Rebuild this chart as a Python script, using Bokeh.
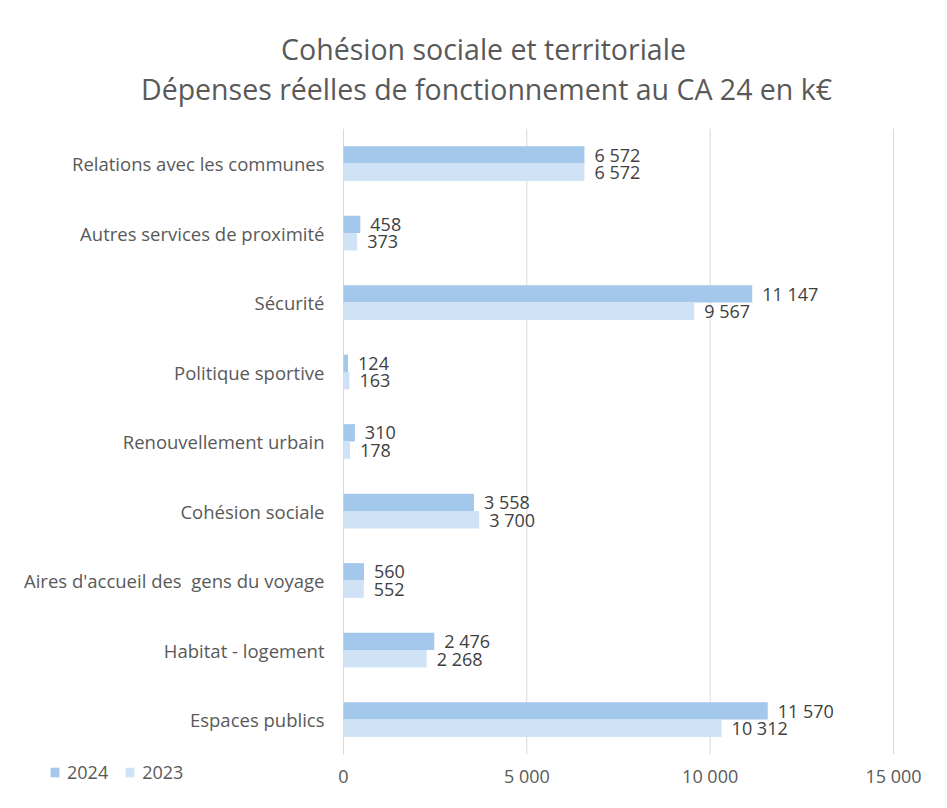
from bokeh.plotting import figure
from bokeh.models import ColumnDataSource, Legend, LegendItem, Label, Range1d
from bokeh.core.properties import value
from bokeh.embed import file_html
from bokeh.resources import INLINE

categories = ["Relations avec les communes", "Autres services de proximité", "Sécurité",
              "Politique sportive", "Renouvellement urbain", "Cohésion sociale",
              "Aires d'accueil des\u00a0 gens du voyage", "Habitat - logement", "Espaces publics"]
values_2024 = [6572, 458, 11147, 124, 310, 3558, 560, 2476, 11570]
values_2023 = [6572, 373, 9567, 163, 178, 3700, 552, 2268, 10312]
x_ticks = [0, 5000, 10000, 15000]
title_lines = ["Cohésion sociale et territoriale",
               "Dépenses réelles de fonctionnement au CA 24 en k€"]
series_names = ["2024", "2023"]


def fmt(v):
    return f"{v:,}".replace(",", " ")


n = len(categories)
pos = [n - 1 - i for i in range(n)]          # first category at the top
BAR = 0.25

src = ColumnDataSource(dict(
    cat=categories,
    pos=pos,
    y24=[y + BAR / 2 for y in pos],
    y23=[y - BAR / 2 for y in pos],
    v24=values_2024,
    v23=values_2023,
    l24=[fmt(v) for v in values_2024],
    l23=[fmt(v) for v in values_2023],
))
tick_src = ColumnDataSource(dict(
    x=x_ticks,
    y0=[-0.5] * len(x_ticks),
    y1=[n - 0.5] * len(x_ticks),
    lab=[fmt(t) for t in x_ticks],
))

FONT = "Open Sans"
C24 = "#A4C8EC"
C23 = "#D0E3F6"
TXT = "#404040"
GREY = "#595959"

# ---- layout geometry (pixels) ----
W, H = 935, 800
X0_PX, X1_PX = 343, 893          # pixel of x = 0 and x = max tick
TOP_PX, STEP_PX = 163, 69.5      # centre of first category, category spacing
xmax = x_ticks[-1]
ppx = (X1_PX - X0_PX) / xmax
x_start = -X0_PX / ppx
x_end = (W - X0_PX) / ppx
y_top = (n - 1) + TOP_PX / STEP_PX
y_bot = y_top - H / STEP_PX

p = figure(width=W, height=H, output_backend="svg", toolbar_location=None,
           x_range=Range1d(x_start, x_end), y_range=Range1d(y_bot, y_top),
           x_axis_location=None, y_axis_location=None,
           min_border=0)
p.grid.visible = False
p.outline_line_color = None
p.background_fill_color = "white"
p.border_fill_color = "white"

# vertical gridlines
p.segment(x0="x", x1="x", y0="y0", y1="y1", source=tick_src,
          line_color="#D9D9D9", line_width=1)

# bars
r24 = p.hbar(y="y24", right="v24", left=0, height=BAR, source=src,
             fill_color=C24, line_color=None)
r23 = p.hbar(y="y23", right="v23", left=0, height=BAR, source=src,
             fill_color=C23, line_color=None)

# value labels
p.text(x="v24", y="y24", text="l24", source=src, x_offset=10,
       text_align="left", text_baseline="middle",
       text_font=value(FONT), text_font_size="18px", text_color=TXT)
p.text(x="v23", y="y23", text="l23", source=src, x_offset=10,
       text_align="left", text_baseline="middle",
       text_font=value(FONT), text_font_size="18px", text_color=TXT)

# category labels
p.text(x=0, y="pos", text="cat", source=src, x_offset=-19,
       text_align="right", text_baseline="middle",
       text_font=value(FONT), text_font_size="18.5px", text_color=GREY)

# x tick labels
p.text(x="x", y="y0", text="lab", source=tick_src, y_offset=22,
       text_align="center", text_baseline="middle",
       text_font=value(FONT), text_font_size="18px", text_color=GREY)

# title (two lines)
p.add_layout(Label(x=483, y=H - 48, x_units="screen", y_units="screen",
                   text=title_lines[0], text_align="center", text_baseline="middle",
                   text_font=FONT, text_font_size="28.5px", text_color=GREY))
p.add_layout(Label(x=486, y=H - 88, x_units="screen", y_units="screen",
                   text=title_lines[1], text_align="center", text_baseline="middle",
                   text_font=FONT, text_font_size="28.5px", text_color=GREY))

# legend
legend = Legend(items=[LegendItem(label=series_names[0], renderers=[r24]),
                       LegendItem(label=series_names[1], renderers=[r23])],
                orientation="horizontal", location=(49, 16),
                border_line_color=None, background_fill_alpha=0,
                padding=0, margin=0, spacing=16,
                glyph_width=11, glyph_height=12, label_standoff=7,
                label_text_font=FONT, label_text_font_size="18px",
                label_text_color=GREY)
p.add_layout(legend, "center")

open("out.html", "w").write(file_html(p, INLINE))
